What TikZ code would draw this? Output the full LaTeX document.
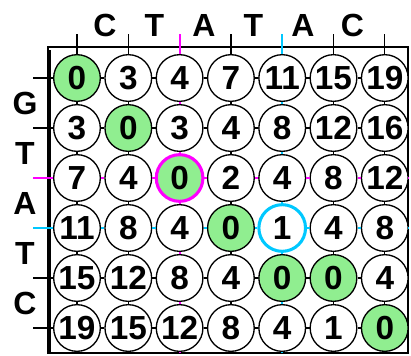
\documentclass[tikz,border=0pt]{standalone}
\usepackage{fontspec}
\setmainfont{Liberation Sans}
\usepackage{tikz}
\usetikzlibrary{positioning}
\usetikzlibrary{calc}
\definecolor{cellgreen}{RGB}{144,238,144}
\definecolor{pathmag}{RGB}{255,0,255}
\definecolor{pathcyan}{RGB}{0,200,255}

\begin{document}
\begin{tikzpicture}[x=0.75pt, y=-0.75pt,
    cell/.style={draw, circle, fill=white, minimum size=35pt, inner sep=0pt, line width=1pt, font=\fontsize{25}{25}\selectfont\bfseries},
    nohit/.style={},
    hit/.style={fill=cellgreen},
    hitmag/.style={fill=cellgreen, draw=pathmag, line width=2.3pt},
    ringcyan/.style={draw=pathcyan, line width=2.3pt},
    link/.style={black, line width=1pt},
    magline/.style={pathmag, line width=1.6pt},
    cyanline/.style={pathcyan, line width=1.6pt},
    seqletter/.style={font=\fontsize{24}{24}\selectfont\bfseries, inner sep=0pt}]
    \useasboundingbox (0,0) rectangle (411,355);

    \draw[line width=1pt] (48,47) rectangle (408,353);
    \draw[line width=2.4pt] (49.5,50) -- (49.5,353);

    \foreach \r/\vals in {
        0/{0/hit,3/nohit,4/nohit,7/nohit,11/nohit,15/nohit,19/nohit},
        1/{3/nohit,0/hit,3/nohit,4/nohit,8/nohit,12/nohit,16/nohit},
        2/{7/nohit,4/nohit,0/hitmag,2/nohit,4/nohit,8/nohit,12/nohit},
        3/{11/nohit,8/nohit,4/nohit,0/hit,1/ringcyan,4/nohit,8/nohit},
        4/{15/nohit,12/nohit,8/nohit,4/nohit,0/hit,0/hit,4/nohit},
        5/{19/nohit,15/nohit,12/nohit,8/nohit,4/nohit,1/nohit,0/hit}}
    {
        \foreach \v/\s [count=\c from 0] in \vals
            \node[cell, \s] (n-\r-\c) at ({77+51.3*\c},{78+50*\r}) {\v};
    }

    \foreach \r/\ls in {0/link,1/link,2/magline,3/cyanline,4/link,5/link} {
        \coordinate (l-\r) at (33,{78+50*\r});
        \coordinate (r-\r) at (408,{78+50*\r});
        \draw[\ls] (l-\r) -- (n-\r-0);
        \foreach \c [remember=\c as \p (initially 0)] in {1,...,6}
            \draw[\ls] (n-\r-\p) -- (n-\r-\c);
        \draw[\ls] (n-\r-6) -- (r-\r);
    }

    \foreach \c/\ls in {0/link,1/link,2/magline,3/link,4/cyanline,5/link,6/link} {
        \coordinate (t-\c) at ({77+51.3*\c},34);
        \coordinate (b-\c) at ({77+51.3*\c},353);
        \draw[\ls] (t-\c) -- (n-0-\c);
        \foreach \r [remember=\r as \p (initially 0)] in {1,...,5}
            \draw[\ls] (n-\p-\c) -- (n-\r-\c);
        \draw[\ls] (n-5-\c) -- (b-\c);
    }

    \foreach \t [count=\i from 0] in {C,T,A,T,A,C}
        \node[seqletter] (top-\i) at ({105+49.5*\i},25) {\t};
    \foreach \t [count=\i from 0] in {G,T,A,T,C}
        \node[seqletter] (side-\i) at (25,{103+50*\i}) {\t};
\end{tikzpicture}
\end{document}
